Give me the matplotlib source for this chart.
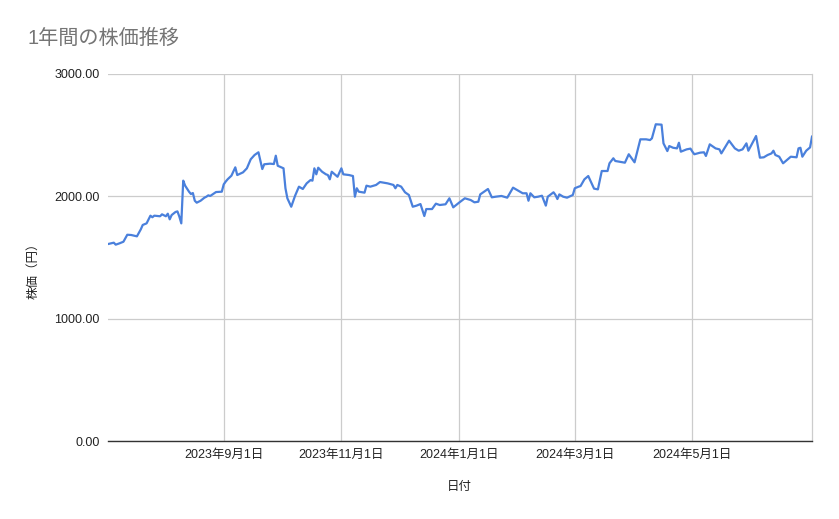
import matplotlib
matplotlib.use("Agg")
import matplotlib.pyplot as plt
import pandas as pd

plt.rcParams['font.family'] = ['Liberation Sans', 'Noto Sans CJK JP', 'DejaVu Sans']

title = "1年間の株価推移"
x_label = "日付"
y_label = "株価（円）"

dates = [
    "2023-07-03", "2023-07-06", "2023-07-07", "2023-07-09", "2023-07-11", "2023-07-13",
    "2023-07-15", "2023-07-18", "2023-07-20", "2023-07-21", "2023-07-23", "2023-07-25",
    "2023-07-26", "2023-07-27", "2023-07-30", "2023-07-31", "2023-08-02", "2023-08-03",
    "2023-08-04", "2023-08-05", "2023-08-07", "2023-08-08", "2023-08-09", "2023-08-10",
    "2023-08-11", "2023-08-12", "2023-08-14", "2023-08-15", "2023-08-16", "2023-08-17",
    "2023-08-18", "2023-08-20", "2023-08-22", "2023-08-23", "2023-08-24", "2023-08-25",
    "2023-08-27", "2023-08-28", "2023-08-31", "2023-09-01", "2023-09-02", "2023-09-03",
    "2023-09-05", "2023-09-07", "2023-09-08", "2023-09-11", "2023-09-13", "2023-09-15",
    "2023-09-17", "2023-09-19", "2023-09-21", "2023-09-22", "2023-09-25", "2023-09-27",
    "2023-09-28", "2023-09-29", "2023-10-02", "2023-10-03", "2023-10-04", "2023-10-06",
    "2023-10-08", "2023-10-10", "2023-10-12", "2023-10-14", "2023-10-16", "2023-10-17",
    "2023-10-18", "2023-10-19", "2023-10-20", "2023-10-22", "2023-10-24", "2023-10-25",
    "2023-10-26", "2023-10-27", "2023-10-30", "2023-11-01", "2023-11-02", "2023-11-05",
    "2023-11-07", "2023-11-08", "2023-11-09", "2023-11-10", "2023-11-13", "2023-11-14",
    "2023-11-16", "2023-11-19", "2023-11-21", "2023-11-25", "2023-11-28", "2023-11-29",
    "2023-11-30", "2023-12-02", "2023-12-04", "2023-12-06", "2023-12-08", "2023-12-10",
    "2023-12-12", "2023-12-14", "2023-12-15", "2023-12-18", "2023-12-20", "2023-12-22",
    "2023-12-25", "2023-12-27", "2023-12-29", "2024-01-01", "2024-01-04", "2024-01-07",
    "2024-01-09", "2024-01-11", "2024-01-12", "2024-01-16", "2024-01-18", "2024-01-20",
    "2024-01-23", "2024-01-26", "2024-01-29", "2024-02-01", "2024-02-03", "2024-02-05",
    "2024-02-06", "2024-02-07", "2024-02-09", "2024-02-11", "2024-02-13", "2024-02-15",
    "2024-02-16", "2024-02-19", "2024-02-20", "2024-02-21", "2024-02-22", "2024-02-24",
    "2024-02-26", "2024-02-29", "2024-03-01", "2024-03-03", "2024-03-04", "2024-03-06",
    "2024-03-08", "2024-03-11", "2024-03-13", "2024-03-15", "2024-03-18", "2024-03-19",
    "2024-03-21", "2024-03-22", "2024-03-25", "2024-03-27", "2024-03-29", "2024-04-01",
    "2024-04-04", "2024-04-07", "2024-04-09", "2024-04-10", "2024-04-12", "2024-04-15",
    "2024-04-16", "2024-04-18", "2024-04-19", "2024-04-21", "2024-04-23", "2024-04-24",
    "2024-04-25", "2024-04-28", "2024-04-30", "2024-05-01", "2024-05-02", "2024-05-05",
    "2024-05-07", "2024-05-08", "2024-05-10", "2024-05-13", "2024-05-15", "2024-05-16",
    "2024-05-20", "2024-05-23", "2024-05-25", "2024-05-27", "2024-05-29", "2024-05-30",
    "2024-06-01", "2024-06-03", "2024-06-05", "2024-06-07", "2024-06-09", "2024-06-11",
    "2024-06-12", "2024-06-13", "2024-06-15", "2024-06-17", "2024-06-19", "2024-06-21",
    "2024-06-24", "2024-06-25", "2024-06-26", "2024-06-27", "2024-06-29", "2024-07-01",
    "2024-07-02",
]

prices = [
    1610, 1621, 1605, 1616, 1629, 1686,
    1684, 1673, 1730, 1766, 1779, 1842,
    1829, 1842, 1837, 1853, 1837, 1858,
    1812, 1847, 1872, 1877, 1834, 1779,
    2128, 2087, 2038, 2019, 2027, 1964,
    1948, 1964, 1989, 1997, 2008, 2003,
    2025, 2035, 2038, 2098, 2120, 2139,
    2169, 2237, 2174, 2196, 2229, 2303,
    2338, 2360, 2223, 2262, 2267, 2264,
    2332, 2250, 2229, 2066, 1984, 1915,
    2005, 2079, 2060, 2106, 2133, 2128,
    2229, 2180, 2234, 2201, 2180, 2174,
    2139, 2201, 2160, 2229, 2180, 2174,
    2166, 1997, 2066, 2038, 2030, 2087,
    2079, 2093, 2117, 2106, 2093, 2066,
    2093, 2079, 2033, 2011, 1915, 1924,
    1937, 1839, 1896, 1896, 1940, 1929,
    1935, 1984, 1910, 1948, 1984, 1970,
    1951, 1956, 2016, 2060, 1992, 1997,
    2003, 1989, 2071, 2044, 2025, 2025,
    1964, 2025, 1992, 1997, 2005, 1924,
    1997, 2033, 2011, 1978, 2016, 1997,
    1989, 2011, 2066, 2079, 2084, 2139,
    2166, 2063, 2057, 2207, 2207, 2270,
    2311, 2289, 2281, 2275, 2344, 2278,
    2466, 2466, 2460, 2474, 2589, 2586,
    2433, 2370, 2411, 2397, 2392, 2438,
    2365, 2384, 2390, 2365, 2344, 2357,
    2360, 2330, 2425, 2392, 2384, 2351,
    2455, 2392, 2373, 2384, 2433, 2373,
    2433, 2493, 2316, 2319, 2338, 2351,
    2373, 2338, 2324, 2270, 2297, 2324,
    2319, 2392, 2397, 2324, 2373, 2400,
    2488,
]

x_tick_dates = ["2023-09-01", "2023-11-01", "2024-01-01", "2024-03-01", "2024-05-01"]
x_tick_labels = ["2023年9月1日", "2023年11月1日", "2024年1月1日", "2024年3月1日", "2024年5月1日"]
y_ticks = [0, 1000, 2000, 3000]

x = pd.to_datetime(dates)

fig = plt.figure(figsize=(8.39, 5.19), dpi=100)
ax = fig.add_axes([108 / 839, 1 - 441 / 519, (812 - 108) / 839, (441 - 74) / 519])

ax.plot(x, prices, color="#4a80dc", linewidth=1.6, solid_joinstyle="round", zorder=3)

ax.set_xlim(x.min(), x.max())
ax.set_ylim(0, 3000)
ax.set_yticks(y_ticks)
ax.set_yticklabels([f"{v:.2f}" for v in y_ticks])
ax.set_xticks(pd.to_datetime(x_tick_dates))
ax.set_xticklabels(x_tick_labels)

ax.grid(True, color="#cccccc", linewidth=0.9)
ax.set_axisbelow(True)
ax.tick_params(length=0, labelsize=9, colors="#222222", pad=6)

for s in ["top", "left"]:
    ax.spines[s].set_visible(False)
ax.spines["right"].set_color("#cccccc")
ax.spines["right"].set_linewidth(0.9)
ax.spines["bottom"].set_color("#333333")
ax.spines["bottom"].set_linewidth(1.0)

fig.text(27 / 839, 1 - 38 / 519, title, fontsize=14.5, color="#757575", va="center", ha="left")
fig.text(459 / 839, 1 - 487 / 519, x_label, fontsize=9, color="#222222", ha="center", va="center")
fig.text(33 / 839, 1 - 268 / 519, y_label, fontsize=9, color="#222222", ha="center", va="center", rotation=90)

fig.savefig("out.png", dpi=100)
